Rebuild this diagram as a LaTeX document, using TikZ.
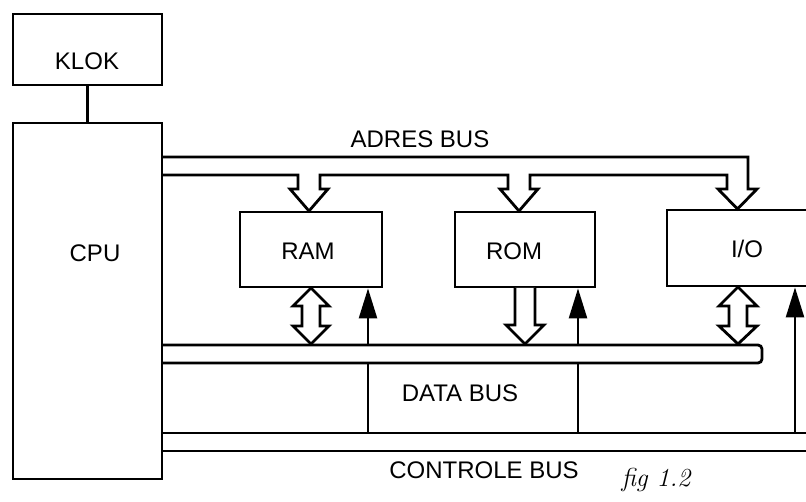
\documentclass[tikz,border=0pt]{standalone}
\usepackage{fontspec}
\newfontfamily\blockfont{Liberation Sans}
\usetikzlibrary{arrows.meta}

\begin{document}
\begin{tikzpicture}[
  x=1pt, y=-1pt,
  line width=2.8pt,
  box/.style={draw, rectangle, inner sep=0pt},
  lbl/.style={anchor=base, inner sep=0pt, font=\blockfont\fontsize{24}{26}\selectfont},
  bus/.style={draw, line join=miter},
  hollow/.style={draw, fill=white, line join=miter},
  ctrl/.style={draw, line width=2.4pt, -{Triangle[length=30pt,width=18pt]}}
]
  \clip (0,0) rectangle (806,502);
  \fill[white] (0,0) rectangle (806,502);

  % Blocks
  \node[box, minimum width=149pt, minimum height=71pt] (klok) at (87.5,49.5) {};
  \node[box, minimum width=149pt, minimum height=356pt] (cpu) at (87.5,301) {};
  \node[box, minimum width=142pt, minimum height=75pt] (ram) at (311,249.5) {};
  \node[box, minimum width=140pt, minimum height=75pt] (rom) at (525,249.5) {};
  \node[box, minimum width=213pt, minimum height=76pt] (io) at (773.5,248) {};
  \draw (klok) -- (cpu);

  \node[lbl] (kloklbl) at (87,70) {KLOK};
  \node[lbl] (cpulbl) at (95,262) {CPU};
  \node[lbl] (ramlbl) at (308,260) {RAM};
  \node[lbl] (romlbl) at (514,260) {ROM};
  \node[lbl] (iolbl) at (747,258) {I/O};

  % Adres bus with branches to RAM, ROM and I/O
  \draw[bus] (162,157) -- (748,157) -- (748,189) -- (757,189) -- (737.5,209)
    -- (718,189) -- (727,189) -- (727,175) -- (530,175) -- (530,189) -- (538,189)
    -- (519,211) -- (500,189) -- (508,189) -- (508,175) -- (320,175) -- (320,189)
    -- (328,189) -- (309,211) -- (290,189) -- (298,189) -- (298,175) -- (162,175);
  \node[lbl] (adreslbl) at (420,148) {ADRES BUS};

  % Controle bus and control lines
  \draw[bus] (162,433) -- (820,433);
  \draw[bus] (162,451) -- (820,451);
  \coordinate (ct1) at (368,433);
  \coordinate (ct2) at (578,433);
  \coordinate (ct3) at (795,433);
  \draw[ctrl] (ct1) -- (ct1 |- ram.south);
  \draw[ctrl] (ct2) -- (ct2 |- rom.south);
  \draw[ctrl] (ct3) -- (ct3 |- io.south);
  \node[lbl] (ctrllbl) at (484,478) {CONTROLE BUS};

  % Data bus
  \fill[white] (163.5,345) -- (762,345) -- (762,363) -- (163.5,363) -- cycle;
  \draw[bus, rounded corners=4pt] (162,345) -- (762,345) -- (762,363) -- (162,363);
  \node[lbl] (datalbl) at (460,402) {DATA BUS};

  \draw[hollow] (311,288) -- (329,306) -- (320,306) -- (320,326) -- (329,326)
    -- (311,344) -- (293,326) -- (302,326) -- (302,306) -- (293,306) -- cycle;
  \draw[hollow] (515,288) -- (515,325) -- (506,325) -- (525,344) -- (544,325)
    -- (535,325) -- (535,288);
  \draw[hollow] (738,287) -- (757,306) -- (747,306) -- (747,326) -- (757,326)
    -- (738,344) -- (719,326) -- (729,326) -- (729,306) -- (719,306) -- cycle;

  \node[anchor=base, inner sep=0pt, font=\itshape\fontsize{26}{28}\selectfont] (figlbl) at (656,486) {fig 1.2};
\end{tikzpicture}
\end{document}
